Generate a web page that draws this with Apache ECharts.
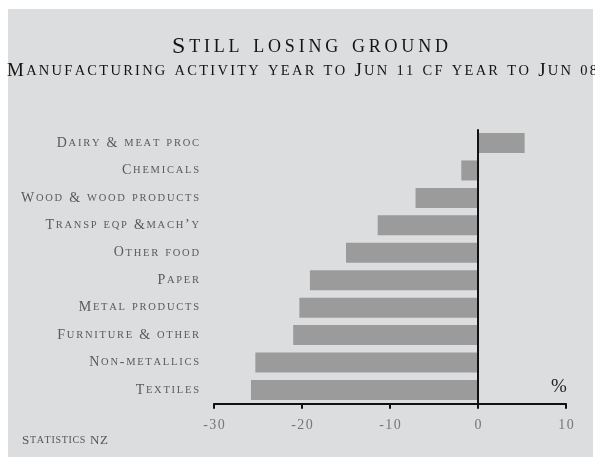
<!DOCTYPE html>
<html>
<head>
<meta charset="utf-8">
<script src="https://cdn.jsdelivr.net/npm/echarts@6/dist/echarts.min.js"></script>
<style>
  html, body { margin: 0; padding: 0; background: #ffffff; }
  #chart { width: 595px; height: 457px; }
</style>
</head>
<body>
<div id="chart"></div>
<script>
// Manufacturing activity, % change, year to Jun 2011 vs year to Jun 2008
const categories = [
  'Dairy & meat proc',
  'Chemicals',
  'Wood & wood products',
  'Transp eqp &mach\u2019y',
  'Other food',
  'Paper',
  'Metal products',
  'Furniture & other',
  'Non-metallics',
  'Textiles'
];
const changePct = [5.3, -1.9, -7.1, -11.4, -15.0, -19.1, -20.3, -21.0, -25.3, -25.8];
const tickValues = [-30, -20, -10, 0, 10];

const titleText = 'Still losing ground';
const subtitleText = 'Manufacturing activity year to Jun 11 cf year to Jun 08';
const sourceText = 'Statistics NZ';

const SERIF = '"Liberation Serif", serif';

// ---- small-caps helper -------------------------------------------------
// Capitals stay full size; lower-case letters and digits are set as reduced
// capitals. Every glyph is its own rich token so tracking can be added.
function capsGlyphs(str) {
  const out = [];
  for (const ch of str) {
    if ((ch >= 'a' && ch <= 'z') || (ch >= '0' && ch <= '9')) out.push({ k: 's', ch: ch.toUpperCase() });
    else out.push({ k: 'b', ch: ch });
  }
  return out;
}

const measureCtx = document.createElement('canvas').getContext('2d');
function glyphWidth(ch, size) {
  measureCtx.font = size + 'px ' + SERIF;
  return measureCtx.measureText(ch).width;
}

// tracking needed so that `sample` set at big/small sizes spans `width` px
function trackingFor(sample, big, small, width) {
  const g = capsGlyphs(sample);
  let w = 0;
  g.forEach(t => { w += glyphWidth(t.ch, t.k === 'b' ? big : small); });
  return Math.max(0, (width - w) / (g.length - 1));
}

function capsText(str) {
  const g = capsGlyphs(str);
  return g.map((t, i) => '{' + t.k + (i === g.length - 1 ? 'l' : '') + '|' + t.ch + '}').join('');
}

function capsRich(big, small, color, track) {
  const base = { fontFamily: SERIF, fontWeight: 'normal', color: color };
  return {
    b:  Object.assign({ fontSize: big,   padding: [0, track, 0, 0] }, base),
    s:  Object.assign({ fontSize: small, padding: [0, track, 0, 0] }, base),
    bl: Object.assign({ fontSize: big   }, base),
    sl: Object.assign({ fontSize: small }, base)
  };
}

// type sizes and tracking for each text group
const TITLE = { big: 24, small: 18 };
TITLE.track = trackingFor(titleText, TITLE.big, TITLE.small, 276);
const SUB = { big: 19, small: 14.5 };
SUB.track = trackingFor(subtitleText, SUB.big, SUB.small, 590);
const LAB = { big: 14, small: 10.5 };
LAB.track = trackingFor(categories[2], LAB.big, LAB.small, 178);
const SRC = { big: 13, small: 10 };
SRC.track = trackingFor(sourceText, SRC.big, SRC.small, 86);

function tickText(v) {
  const s = (v < 0 ? '-' : '') + Math.abs(v);
  const chars = Array.from(s);
  return chars.map((c, i) => '{n' + (i === chars.length - 1 ? 'l' : '') + '|' + c + '}').join('');
}

const chart = echarts.init(document.getElementById('chart'), null, { renderer: 'canvas' });

chart.setOption({
  backgroundColor: '#ffffff',
  animation: false,
  graphic: [
    {
      type: 'rect', z: -10, silent: true,
      shape: { x: 8, y: 9, width: 585, height: 448 },
      style: { fill: '#dcdddf' }
    },
    {
      type: 'text', left: 551, top: 378, silent: true,
      style: { text: '%', fontFamily: SERIF, fontSize: 19, fill: '#222222' }
    }
  ],
  title: [
    {
      text: capsText(titleText),
      left: 172, top: 35, padding: 0,
      textStyle: { rich: capsRich(TITLE.big, TITLE.small, '#141414', TITLE.track) }
    },
    {
      text: capsText(subtitleText),
      left: 7, top: 62, padding: 0,
      textStyle: { rich: capsRich(SUB.big, SUB.small, '#141414', SUB.track) }
    },
    {
      text: capsText(sourceText),
      left: 22, top: 434, padding: 0,
      textStyle: { rich: capsRich(SRC.big, SRC.small, '#555555', SRC.track) }
    }
  ],
  grid: { left: 214, right: 29, top: 129.3, bottom: 53.3, containLabel: false },
  xAxis: {
    type: 'value',
    min: -30, max: 10, interval: 10,
    axisLine: { show: true, onZero: false, lineStyle: { color: '#111111', width: 2 } },
    axisTick: { show: true, length: 5, inside: false, lineStyle: { color: '#111111', width: 2 } },
    splitLine: { show: false },
    axisLabel: {
      margin: 15,
      formatter: v => (tickValues.includes(v) ? tickText(v) : ''),
      rich: {
        n:  { fontFamily: SERIF, fontSize: 14, color: '#767676', padding: [0, 1.5, 0, 0] },
        nl: { fontFamily: SERIF, fontSize: 14, color: '#767676' }
      }
    }
  },
  yAxis: {
    type: 'category',
    data: categories,
    inverse: true,
    axisLine: { show: false, onZero: false },
    axisTick: { show: false },
    splitLine: { show: false },
    axisLabel: {
      margin: 15,
      formatter: v => capsText(v),
      rich: capsRich(LAB.big, LAB.small, '#5a5a5a', LAB.track)
    }
  },
  series: [
    {
      type: 'bar',
      data: changePct,
      barCategoryGap: '27%',
      itemStyle: { color: '#9b9b9b' },
      silent: true,
      markLine: {
        silent: true,
        symbol: ['none', 'none'],
        label: { show: false },
        lineStyle: { color: '#111111', width: 2, type: 'solid' },
        data: [{ xAxis: 0 }]
      }
    }
  ]
});
</script>
</body>
</html>
